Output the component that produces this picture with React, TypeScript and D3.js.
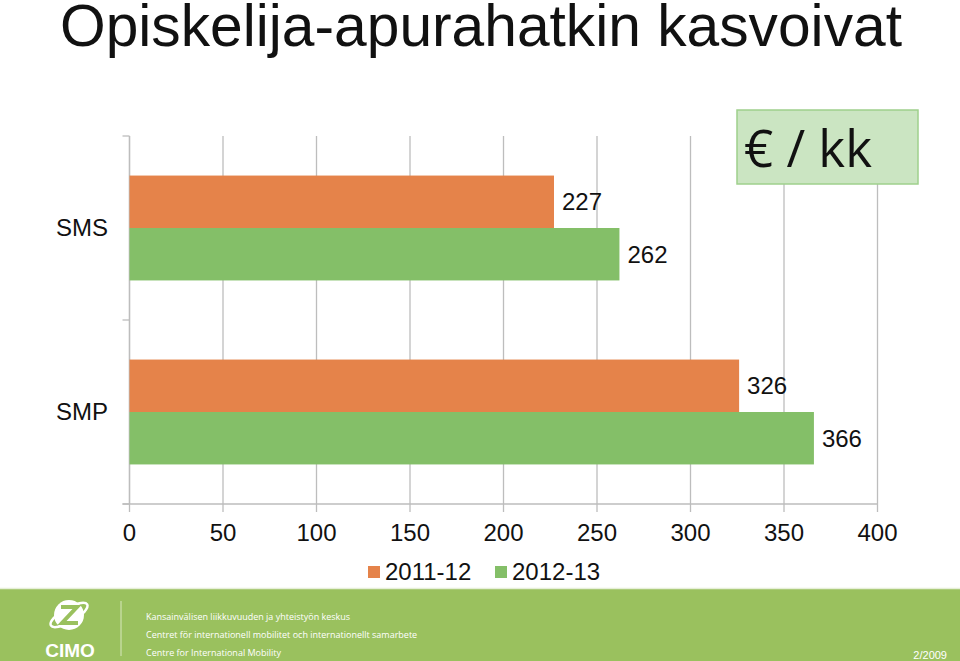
import React from "react";
import * as d3 from "d3";

const categories = ["SMS", "SMP"];
const seriesNames = ["2011-12", "2012-13"];
const values2011 = [227, 326];
const values2012 = [262, 366];
const xTicks = [0, 50, 100, 150, 200, 250, 300, 350, 400];
const footerLines = [
  "Kansainvälisen liikkuvuuden ja yhteistyön keskus",
  "Centret för internationell mobilitet och internationellt samarbete",
  "Centre for International Mobility",
];

const COLORS = ["#e5834a", "#84bf68"];
const FONT = "'Liberation Sans', Arial, sans-serif";

export default function App() {
  const W = 960, H = 661;
  const left = 129.5, right = 877.5, top = 136, bottom = 504;
  const x = d3.scaleLinear().domain([0, 400]).range([left, right]);
  const y0 = d3.scaleBand<string>().domain(categories).range([top, bottom]).paddingInner(0.43).paddingOuter(0.215);
  const y1 = d3.scaleBand<string>().domain(seriesNames).range([0, y0.bandwidth()]);
  const series = [values2011, values2012];
  const catBounds = [top, (top + bottom) / 2, bottom];

  return (
    <svg width={W} height={H} style={{ position: "absolute", left: 0, top: 0, background: "#fff" }} fontFamily={FONT}>
      <text x={60} y={46} fontSize={59} fill="#111" textLength={842} lengthAdjust="spacingAndGlyphs">Opiskelija-apurahatkin kasvoivat</text>

      {/* gridlines */}
      {xTicks.map((t) => (
        <line key={"g" + t} x1={x(t)} x2={x(t)} y1={top} y2={bottom + 8} stroke="#bdbdbd" strokeWidth={1.3} />
      ))}
      {/* left axis */}
      <line x1={left} x2={left} y1={top} y2={bottom} stroke="#bdbdbd" strokeWidth={1.3} />
      {catBounds.map((b, i) => (
        <line key={"lt" + i} x1={left - 7} x2={left} y1={b} y2={b} stroke="#bdbdbd" strokeWidth={1.3} />
      ))}
      <line x1={left - 7} x2={right} y1={bottom} y2={bottom} stroke="#bdbdbd" strokeWidth={1.3} />

      {/* bars */}
      {categories.map((c, ci) =>
        seriesNames.map((s, si) => {
          const v = series[si][ci];
          const by = (y0(c) as number) + (y1(s) as number);
          return (
            <g key={c + s}>
              <rect x={x(0)} y={by} width={x(v) - x(0)} height={y1.bandwidth()} fill={COLORS[si]} />
              <text x={x(v) + 8} y={by + y1.bandwidth() / 2} dy="0.35em" fontSize={24} fill="#111">{v}</text>
            </g>
          );
        })
      )}

      {/* category labels */}
      {categories.map((c) => (
        <text key={"c" + c} x={108} y={(y0(c) as number) + y0.bandwidth() / 2} dy="0.35em" textAnchor="end" fontSize={24} fill="#111">{c}</text>
      ))}

      {/* x tick labels */}
      {xTicks.map((t) => (
        <text key={"t" + t} x={x(t)} y={533} dy="0.35em" textAnchor="middle" fontSize={24} fill="#111">{t}</text>
      ))}

      {/* legend */}
      {seriesNames.map((s, i) => {
        const lx = [368, 495][i];
        return (
          <g key={"l" + s}>
            <rect x={lx} y={566} width={12} height={12} fill={COLORS[i]} />
            <text x={lx + 17} y={572} dy="0.35em" fontSize={24} fill="#111">{s}</text>
          </g>
        );
      })}

      {/* unit box */}
      <rect x={737} y={110} width={181} height={74} fill="#cbe5c2" stroke="#9fd08c" strokeWidth={1.5} />
      <text x={744} y={167} fontSize={51} fill="#111" fontFamily="'Open Sans', 'Noto Sans', sans-serif">€ / kk</text>

      {/* footer */}
      <rect x={0} y={588} width={W} height={73} fill="#9ac15e" />
      <line x1={0} x2={W} y1={588.5} y2={588.5} stroke="#e6efd8" strokeWidth={1.5} />
      <g>
        <circle cx={69} cy={615} r={15} fill="#fff" />
        <ellipse cx={69} cy={615} rx={21} ry={7} fill="none" stroke="#fff" strokeWidth={2.5} transform="rotate(-30 69 615)" />
        <path d="M61,607 L77,607 L62,623 L78,623" fill="none" stroke="#9ac15e" strokeWidth={4} />
        <text x={70} y={657} textAnchor="middle" fontSize={19} fontWeight="bold" fill="#fff">CIMO</text>
      </g>
      <line x1={121} x2={121} y1={601} y2={656} stroke="#d7e7bd" strokeWidth={1} />
      {footerLines.map((l, i) => (
        <text key={"f" + i} x={146} y={620 + i * 18} fontSize={9} fill="#fff" fontFamily="'Open Sans', sans-serif">{l}</text>
      ))}
      <text x={947} y={659} textAnchor="end" fontSize={11} fill="#fff">2/2009</text>
    </svg>
  );
}
